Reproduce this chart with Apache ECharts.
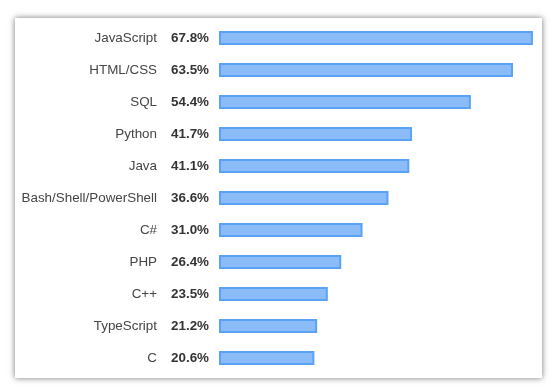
<!DOCTYPE html>
<html>
<head>
<meta charset="utf-8">
<script src="https://cdn.jsdelivr.net/npm/echarts@6/dist/echarts.min.js"></script>
<style>
html,body{margin:0;padding:0;background:#fff;width:559px;height:390px;overflow:hidden;}
#card{position:absolute;left:15px;top:18px;width:527px;height:360px;background:#fff;box-shadow:0 0 6px rgba(0,0,0,0.55);}
#chart{position:absolute;left:0;top:0;width:559px;height:390px;}
</style>
</head>
<body>
<div id="card"></div>
<div id="chart"></div>
<script>
const categories = ["JavaScript","HTML/CSS","SQL","Python","Java","Bash/Shell/PowerShell","C#","PHP","C++","TypeScript","C"];
const values = [67.8, 63.5, 54.4, 41.7, 41.1, 36.6, 31.0, 26.4, 23.5, 21.2, 20.6];
const valueLabels = ["67.8%","63.5%","54.4%","41.7%","41.1%","36.6%","31.0%","26.4%","23.5%","21.2%","20.6%"];

const chart = echarts.init(document.getElementById('chart'), null, {renderer:'canvas'});
const axisMax = 70;
const scale = 4.63;
const gridLeft = 219;
const gridWidth = axisMax * scale;
const font = 'Arial, "Liberation Sans", sans-serif';
chart.setOption({
  backgroundColor: 'transparent',
  animation: false,
  grid: {left: gridLeft, top: 22, height: 352, width: gridWidth},
  xAxis: {type:'value', min:0, max:axisMax, show:false},
  yAxis: {
    type:'category', data: categories, inverse:true,
    axisLine:{show:false}, axisTick:{show:false}, splitLine:{show:false},
    axisLabel:{
      margin: 10,
      fontFamily: font,
      formatter: function(v, i){ return '{n|' + v + '}{v|' + valueLabels[i] + '}'; },
      rich:{
        n:{fontSize:13.4, color:'#454545', padding:[0,14,0,0], fontFamily:font},
        v:{fontSize:13.4, color:'#333', fontWeight:'bold', width:38, align:'left', fontFamily:font}
      }
    }
  },
  series:[{
    type:'bar', data: values, barWidth: 14,
    itemStyle:{color:'#8cbcf8', borderColor:'#5aa2f5', borderWidth:2},
    emphasis:{disabled:true}
  }]
});
</script>
</body>
</html>
